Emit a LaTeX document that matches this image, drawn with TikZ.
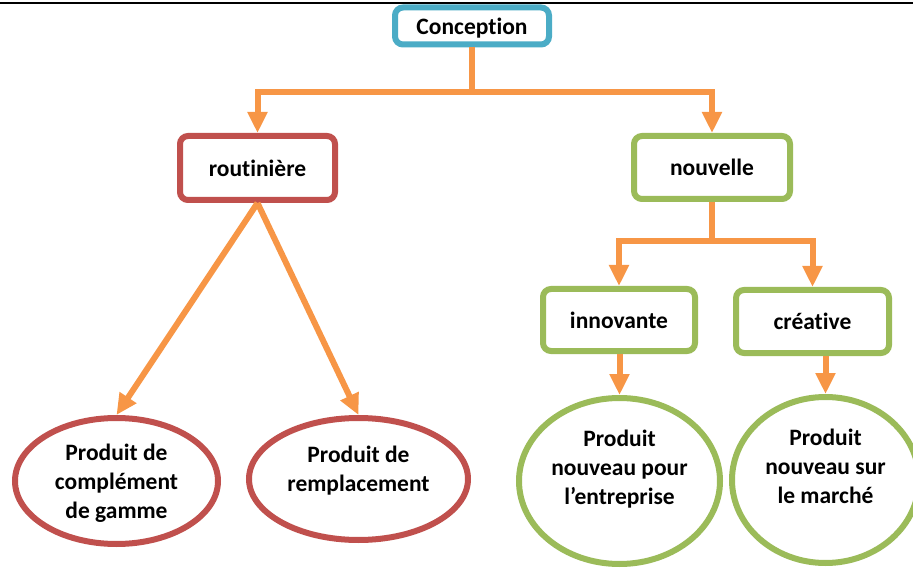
\documentclass[tikz,border=0pt]{standalone}
\usepackage{fontspec}
\setmainfont{Carlito}[Ligatures={NoCommon,NoContextual}]
\usetikzlibrary{arrows.meta,shapes.geometric}
\definecolor{cBlue}{HTML}{4BACC6}
\definecolor{cRed}{HTML}{C0504D}
\definecolor{cGreen}{HTML}{9BBB59}
\definecolor{cOrange}{HTML}{F79646}
\begin{document}
\begin{tikzpicture}[x=1pt,y=-1pt,
  lbl/.style={font=\fontsize{23.5}{29}\selectfont\bfseries, align=center},
  boxnode/.style={lbl, draw, line width=6pt, rounded corners=8pt, fill=white, inner sep=0pt},
  ellnode/.style={lbl, ellipse, draw, line width=6pt, fill=white, inner sep=0pt},
  conn/.style={cOrange, line width=6pt},
  arr/.style={conn, -{Triangle[length=21pt,width=19pt]}},
]
\useasboundingbox (0,0) rectangle (913,569);
\draw[line width=2.5pt] (0,2.8) -- (913,2.8);

\node[boxnode, draw=cBlue, minimum width=154pt, minimum height=37pt, text height=21pt] (conc) at (472,26) {Conception};
\node[boxnode, draw=cRed, minimum width=155pt, minimum height=64pt] (rout) at (257.5,168) {routinière};
\node[boxnode, draw=cGreen, minimum width=156pt, minimum height=63pt] (nouv) at (712,167.5) {nouvelle};
\node[boxnode, draw=cGreen, minimum width=152pt, minimum height=62pt] (inno) at (619,320) {innovante};
\node[boxnode, draw=cGreen, minimum width=153pt, minimum height=63pt] (crea) at (812.5,321.5) {créative};

\node[ellnode, draw=cRed, minimum width=203pt, minimum height=126pt, text depth=0pt] (pcg) at (116.5,481) {Produit de\\complément\\de gamme};
\node[ellnode, draw=cRed, minimum width=219pt, minimum height=122pt, text depth=21pt] (prem) at (358.5,479) {Produit de\\remplacement};
\node[ellnode, draw=cGreen, minimum width=201pt, minimum height=166pt, text depth=27pt] (pne) at (619.5,481) {Produit\\nouveau pour\\l’entreprise};
\node[ellnode, draw=cGreen, minimum width=187pt, minimum height=166pt, text depth=27pt] (pnm) at (825.5,480) {Produit\\nouveau sur\\le marché};

\coordinate (j1) at (472,92);
\coordinate (j2) at (712,241);
\draw[arr] (conc.south) -- (j1) -| (rout.north);
\draw[arr] (j1) -| (nouv.north);
\draw[arr] (nouv.south) -- (j2) -| (inno.north);
\draw[arr] (j2) -| (crea.north);
\draw[arr] (rout.south) -- (pcg.north);
\draw[arr] (rout.south) -- (prem.north);
\draw[arr] (inno.south -| pne.north) -- (pne.north);
\draw[arr] (crea.south -| pnm.north) -- (pnm.north);
\end{tikzpicture}
\end{document}
